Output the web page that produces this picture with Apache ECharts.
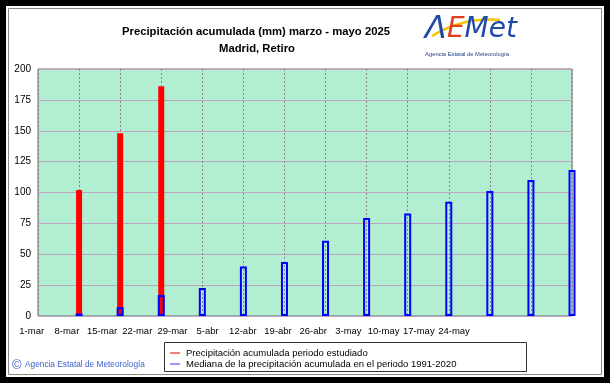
<!DOCTYPE html>
<html><head><meta charset="utf-8">
<script src="https://cdn.jsdelivr.net/npm/echarts@6/dist/echarts.min.js"></script>
<style>html,body{margin:0;padding:0;background:#000;}#c{width:610px;height:383px;}</style>
</head><body><div id="c"></div>
<script>
// Tick labels under the x axis (weekly)
const tickLabels = ['1-mar','8-mar','15-mar','22-mar','29-mar','5-abr','12-abr','19-abr','26-abr','3-may','10-may','17-may','24-may'];
// Days after 1 March of each weekly bar (8-mar ... 31-may)
const dayOffsets = [7,14,21,28,35,42,49,56,63,70,77,84,91];
// Accumulated precipitation of the studied period (mm), available weeks only
const observed = [102,148,186];
// Median accumulated precipitation 1991-2020 (mm)
const median = [2,7,17,22.7,40,43.7,61,79.4,82.9,92.6,101.2,110.1,118.2];
const seriesNames = ['Precipitación acumulada periodo estudiado','Mediana de la precipitación acumulada en el periodo 1991-2020'];
const titleLines = ['Precipitación acumulada (mm) marzo - mayo 2025','Madrid, Retiro'];

const F = "'Liberation Sans', Arial, sans-serif";
const chart = echarts.init(document.getElementById('c'), null, {renderer:'canvas'});
chart.setOption({
  backgroundColor:'#000',
  animation:false,
  grid:[
    {left:38, top:69, width:534, height:247, show:true, backgroundColor:'#b2eed2', borderColor:'#6a6a6a', borderWidth:1},
    {left:31.7, top:69, width:422.3, height:247, show:false}
  ],
  xAxis:[
    {gridIndex:0, type:'value', min:0, max:91, interval:7,
     axisLine:{show:false}, axisTick:{show:false}, axisLabel:{show:false},
     splitLine:{show:true, lineStyle:{color:'#8a8a8a', type:[2,2], width:1}}},
    {gridIndex:0, type:'value', min:0, max:91, show:false},
    {gridIndex:1, type:'category', data:tickLabels, boundaryGap:false,
     axisLine:{show:false}, axisTick:{show:false}, splitLine:{show:false},
     axisLabel:{show:true, interval:0, margin:10, fontFamily:F, fontSize:9.5, color:'#000'}}
  ],
  yAxis:[
    {gridIndex:0, type:'value', min:0, max:200, interval:25,
     axisLine:{show:false}, axisTick:{show:false},
     axisLabel:{margin:7, fontFamily:F, fontSize:10, color:'#000'},
     splitLine:{show:true, lineStyle:{color:'#bea4be', width:1}}},
    {gridIndex:1, type:'value', show:false, min:0, max:200}
  ],
  series:[
    {name:seriesNames[0], type:'bar', xAxisIndex:0, yAxisIndex:0, barWidth:6,
     data:observed.map((v,i)=>[dayOffsets[i], v]),
     itemStyle:{color:'#ff0000'}, z:3},
    {name:seriesNames[1], type:'bar', xAxisIndex:1, yAxisIndex:0, barWidth:7,
     data:median.map((v,i)=>[dayOffsets[i], v]),
     itemStyle:{color:'rgba(0,0,0,0)', borderColor:'#0000ff', borderWidth:2}, z:4}
  ],
  graphic:[
    {type:'rect', shape:{x:6,y:6,width:598,height:371}, style:{fill:'#fff'}, z:-10},
    {type:'rect', shape:{x:8.5,y:8.5,width:593,height:366}, style:{fill:'none', stroke:'#8a8a8a', lineWidth:1}, z:-9},
    {type:'text', x:256, y:32, style:{text:titleLines[0], font:"bold 11.3px "+F, fill:'#000', textAlign:'center', textVerticalAlign:'middle'}},
    {type:'text', x:257, y:48.5, style:{text:titleLines[1], font:"bold 11.3px "+F, fill:'#000', textAlign:'center', textVerticalAlign:'middle'}},
    // legend box
    {type:'rect', shape:{x:164.5,y:342.5,width:362,height:29}, style:{fill:'#fff', stroke:'#333', lineWidth:1}},
    {type:'line', shape:{x1:170,y1:353,x2:180,y2:353}, style:{stroke:'#e00000', lineWidth:1}},
    {type:'line', shape:{x1:170,y1:364,x2:180,y2:364}, style:{stroke:'#3030ff', lineWidth:1}},
    {type:'text', x:186, y:353, style:{text:seriesNames[0], font:"9.5px "+F, fill:'#000', textVerticalAlign:'middle'}},
    {type:'text', x:186, y:364, style:{text:seriesNames[1], font:"9.5px "+F, fill:'#000', textVerticalAlign:'middle'}},
    // copyright
    {type:'text', x:12, y:365, style:{text:'©', font:"13px "+F, fill:'#3a5fcd', textVerticalAlign:'middle'}},
    {type:'text', x:25, y:365, style:{text:'Agencia Estatal de Meteorología', font:"8.3px "+F, fill:'#3a5fcd', textVerticalAlign:'middle'}},
    // logo
    {type:'bezierCurve', shape:{x1:432,y1:36,x2:500,y2:20,cpx1:455,cpy1:22,cpx2:478,cpy2:18}, style:{stroke:'#f5c400', lineWidth:2.5, fill:'none'}},
    {type:'text', x:425, y:30, style:{
      text:'{a|Λ}{e|E}{m|Met}',
      rich:{
        a:{font:"italic 32px 'DejaVu Sans'", fill:'#1f4aa8'},
        e:{font:"italic 28px 'DejaVu Sans'", fill:'#e0401c'},
        m:{font:"italic 28px 'DejaVu Sans'", fill:'#1f4aa8'}
      }, textVerticalAlign:'middle'}},
    {type:'text', x:467, y:54, style:{text:'Agencia Estatal de Meteorología', font:"5.8px "+F, fill:'#1f3f80', textAlign:'center', textVerticalAlign:'middle'}}
  ]
});
</script></body></html>
